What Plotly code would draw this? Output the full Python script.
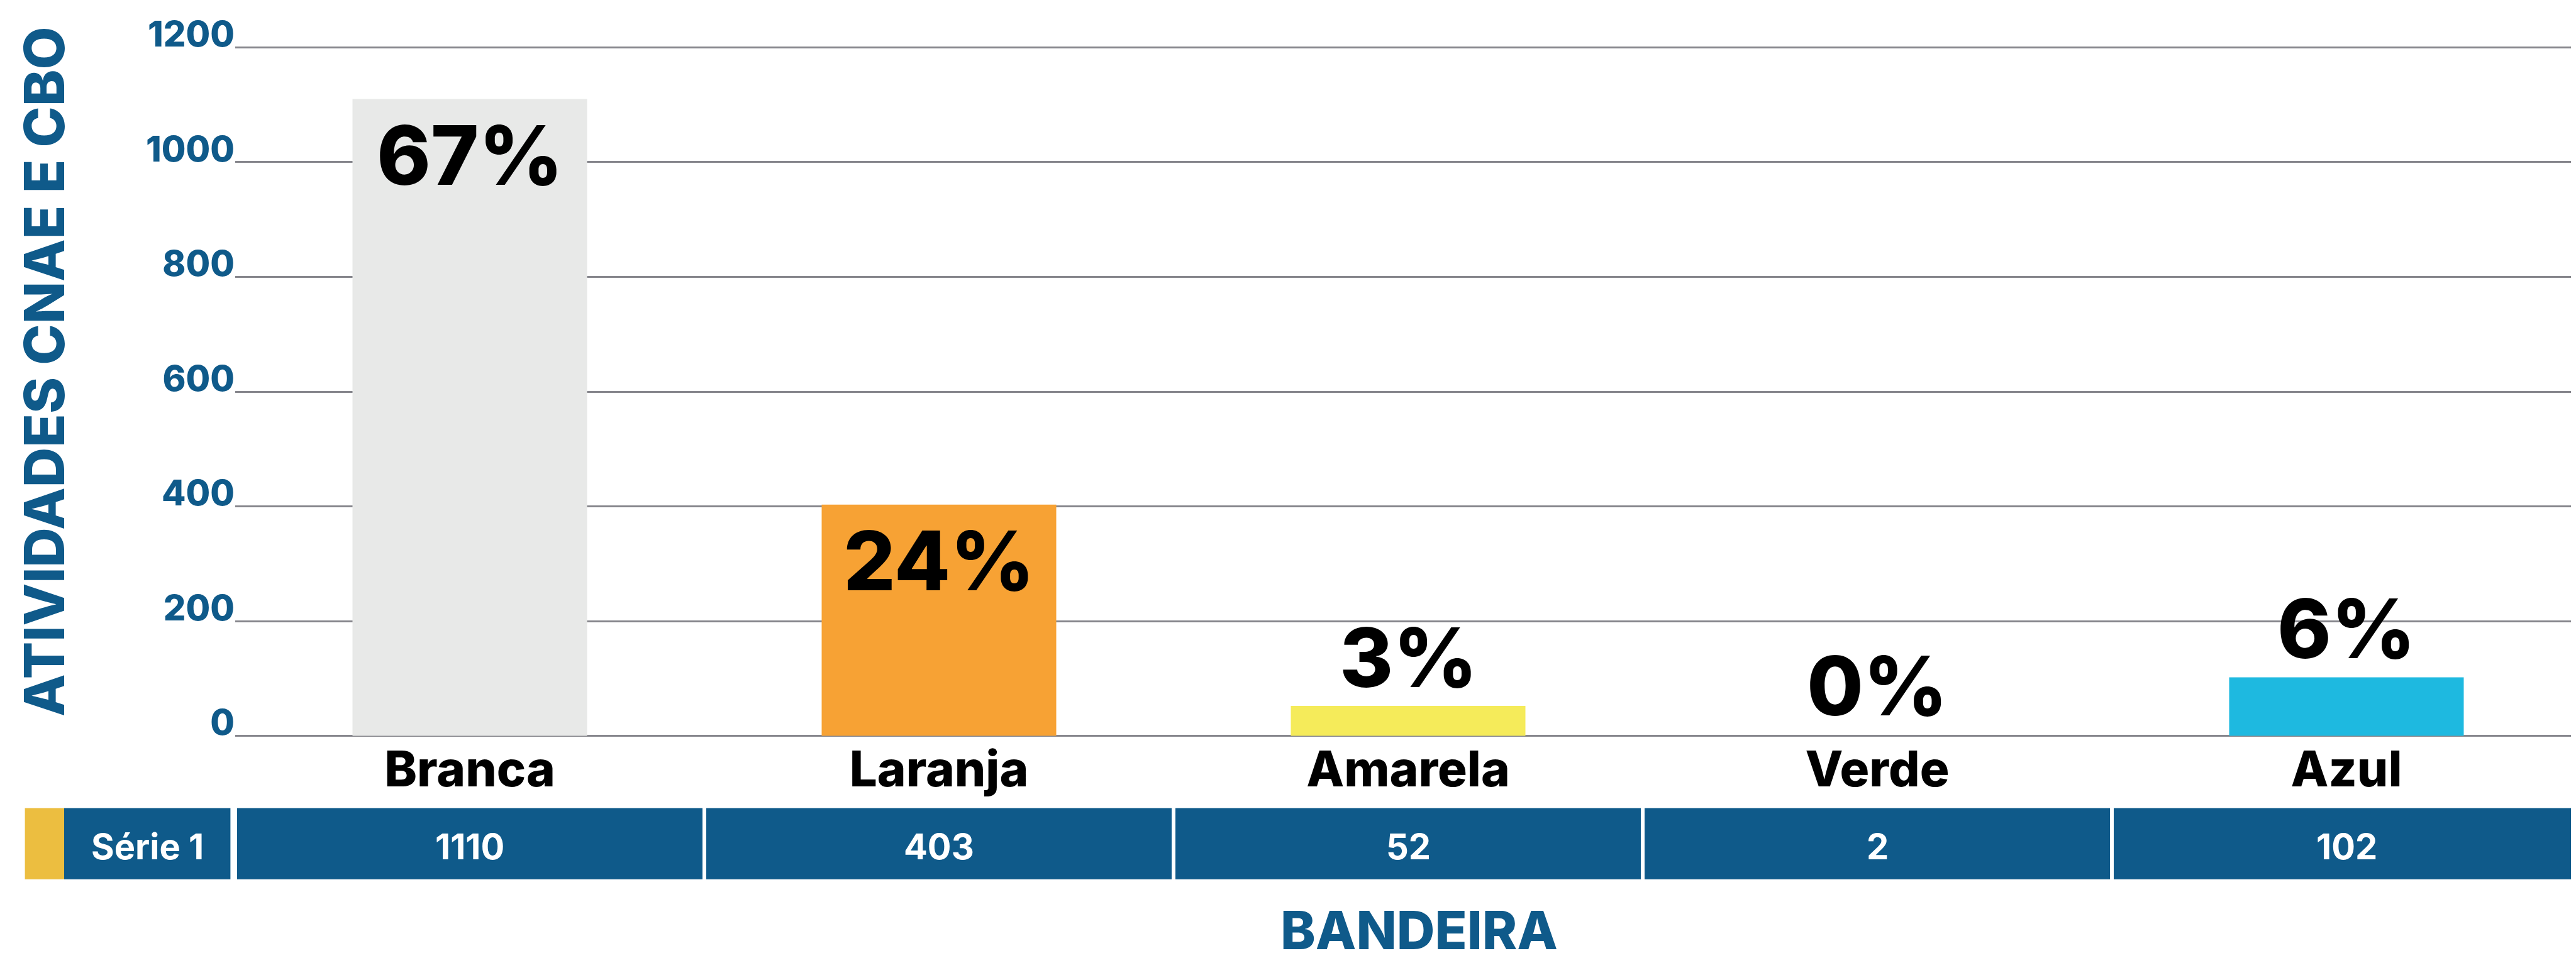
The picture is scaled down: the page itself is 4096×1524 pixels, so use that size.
import plotly.graph_objects as go

# ---------------- data ----------------
categories = ["Branca", "Laranja", "Amarela", "Verde", "Azul"]
values = [1110, 403, 52, 2, 102]
series_name = "Série 1"
y_ticks = [0, 200, 400, 600, 800, 1000, 1200]
y_title = "ATIVIDADES CNAE E CBO"
x_title = "BANDEIRA"

# ---------------- styles ----------------
bar_colors = ["#E8E9E8", "#F7A234", "#F5EB5A", "rgba(0,0,0,0)", "#1EB9E0"]
BLUE = "#0F5A8A"
SWATCH = "#ECBE40"
GRID = "#86868C"
FONT = "Inter"

W, H = 4096, 1524
ML, MR, MT, MB = 366, 0, 62, 356
PW = W - ML - MR
PH = H - MT - MB


def paper_x(px):
    return (px - ML) / PW


def paper_y(px):
    return (H - MB - px) / PH


total = sum(values)
pct_labels = [f"{round(v / total * 100)}%" for v in values]

fig = go.Figure()
fig.add_trace(go.Bar(
    x=categories, y=values, width=0.5,
    marker=dict(color=bar_colors, line=dict(width=0)),
    hoverinfo="x+y", showlegend=False,
))

annotations = []
shapes = []

# percentage labels
vmax = max(values)
for cat, v, lab in zip(categories, values, pct_labels):
    inside = v > 0.2 * vmax
    annotations.append(dict(
        x=cat, y=v, xref="x", yref="y", text=lab, showarrow=False,
        xanchor="center", yanchor="middle",
        yshift=-89 if inside else 78,
        font=dict(family=FONT, size=130, color="black", weight=800),
    ))

# data table row below the chart
t_top, t_bot = 1277.6, 1390.7
stroke = 6
for i, (cat, v) in enumerate(zip(categories, values)):
    shapes.append(dict(
        type="rect", xref="x", yref="paper",
        x0=i - 0.5, x1=i + 0.5,
        y0=paper_y(t_top - stroke / 2), y1=paper_y(t_bot + stroke / 2),
        fillcolor=BLUE, line=dict(color="white", width=stroke), layer="above",
    ))
    annotations.append(dict(
        x=cat, y=paper_y((t_top + t_bot) / 2 + 4.5), xref="x", yref="paper",
        text=str(v), showarrow=False, xanchor="center", yanchor="middle",
        font=dict(family=FONT, size=56, color="white", weight="bold"),
    ))

# legend swatch + series name cell
shapes.append(dict(
    type="rect", xref="paper", yref="paper",
    x0=paper_x(31.6), x1=paper_x(94), y0=paper_y(t_top), y1=paper_y(t_bot),
    fillcolor=SWATCH, line=dict(width=0), layer="above",
))
shapes.append(dict(
    type="rect", xref="paper", yref="paper",
    x0=paper_x(94), x1=paper_x(358.4), y0=paper_y(t_top), y1=paper_y(t_bot),
    fillcolor=BLUE, line=dict(width=0), layer="above",
))
annotations.append(dict(
    x=paper_x((94 + 358.4) / 2), y=paper_y((t_top + t_bot) / 2 + 4.5),
    xref="paper", yref="paper", text=series_name, showarrow=False,
    xanchor="center", yanchor="middle",
    font=dict(family=FONT, size=56, color="white", weight="bold"),
))

# axis titles
annotations.append(dict(
    x=paper_x(62), y=paper_y(583), xref="paper", yref="paper",
    text=y_title, textangle=-90, showarrow=False,
    xanchor="center", yanchor="middle",
    font=dict(family=FONT, size=88, color=BLUE, weight=800),
))
annotations.append(dict(
    x=paper_x(2248), y=paper_y(1471), xref="paper", yref="paper",
    text=x_title, showarrow=False, xanchor="center", yanchor="middle",
    font=dict(family=FONT, size=84, color=BLUE, weight=800),
))

fig.update_layout(
    width=W, height=H,
    margin=dict(l=ML, r=MR, t=MT, b=MB, pad=0),
    paper_bgcolor="white", plot_bgcolor="white",
    showlegend=False,
    xaxis=dict(
        type="category", range=[-0.5, len(categories) - 0.5],
        showgrid=False, zeroline=False, showline=False, ticks="",
        tickfont=dict(family=FONT, size=78, color="black", weight=800),
        ticklabelstandoff=-4,
        fixedrange=True,
    ),
    yaxis=dict(
        range=[-6, 1206], tickvals=y_ticks,
        showgrid=True, gridcolor=GRID, gridwidth=3,
        zeroline=False, showline=False, ticks="",
        tickfont=dict(family=FONT, size=56, color=BLUE, weight=800),
        ticklabelshift=-21,
        fixedrange=True,
    ),
    shapes=shapes,
    annotations=annotations,
)

fig.write_html("out.html")
